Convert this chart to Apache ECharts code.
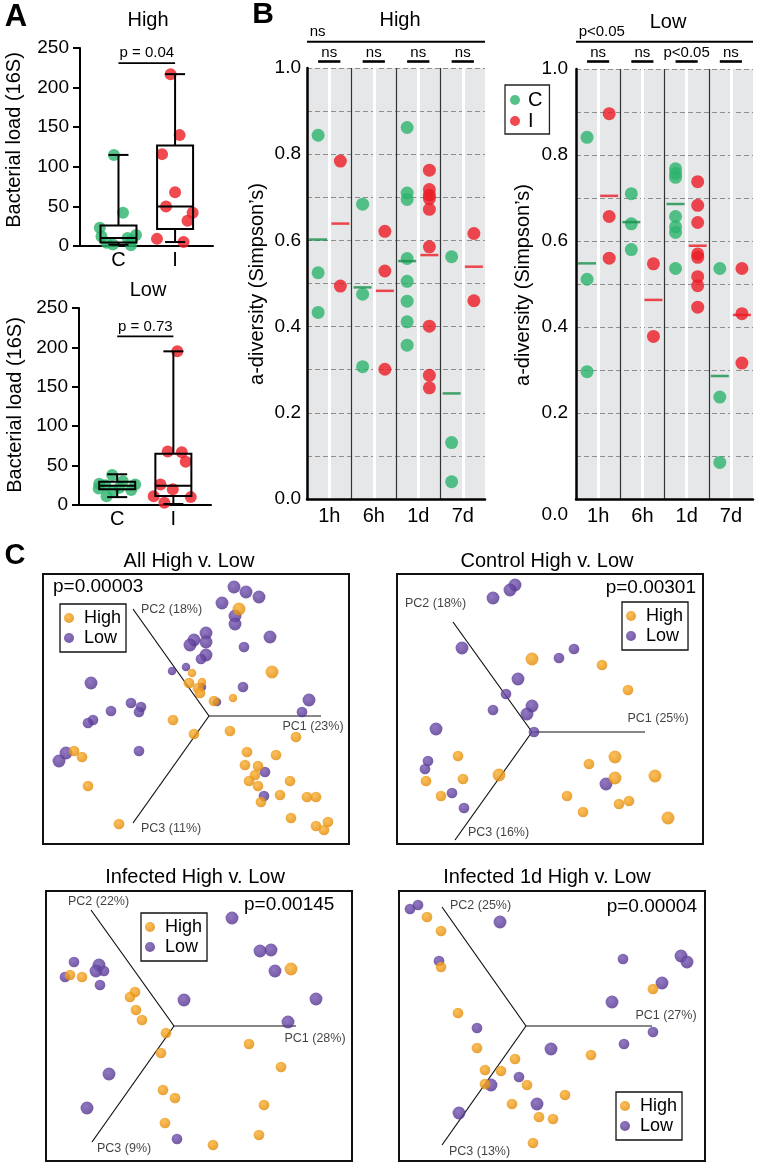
<!DOCTYPE html>
<html><head><meta charset="utf-8">
<script src="https://cdn.jsdelivr.net/npm/echarts@6.0.0/dist/echarts.min.js"></script>
<style>html,body{margin:0;padding:0;background:#fff;}#chart{width:760px;height:1164px;}</style>
</head><body><div id="chart"></div>
<script>
// ================= DATA =================
// ---- Panel A: bacterial load (16S) ----
const aCategories = ['C', 'I'];
const aYTicks = [0, 50, 100, 150, 200, 250];
const aHighC = [115, 42, 23, 14, 12, 10, 7, 4, 2, 1];
const aHighCJitter = [-0.08, 0.08, -0.33, 0.31, -0.30, 0.16, 0.23, -0.21, -0.10, 0.22];
const aHighI = [217, 140, 116, 68, 50, 42, 32, 9, 5];
const aHighIJitter = [-0.08, 0.08, -0.23, 0.00, -0.16, 0.31, 0.22, -0.32, 0.15];
const aHighBoxC = [1.6, 4.5, 10, 26, 115];
const aHighBoxI = [5, 21.5, 50, 127, 217];
const aHighP = 'p = 0.04';
const aLowC = [38, 30, 27, 26, 25, 22, 21, 19, 18, 11];
const aLowCJitter = [-0.09, 0.10, -0.32, 0.32, -0.21, 0.04, -0.33, 0.25, -0.07, -0.19];
const aLowI = [195, 68, 67, 55, 26, 20, 11, 10, 3];
const aLowIJitter = [0.07, -0.10, 0.15, 0.22, -0.23, -0.01, -0.35, 0.31, -0.16];
const aLowBoxC = [10, 20, 24.5, 29.5, 39];
const aLowBoxI = [1.3, 11.4, 24.5, 65, 195];
const aLowP = 'p = 0.73';

// ---- Panel B: alpha diversity (Simpson's) ----
const bGroups = ['1h', '6h', '1d', '7d'];
const bHighC = [[0.844, 0.525, 0.433], [0.684, 0.475, 0.307], [0.862, 0.710, 0.695, 0.558, 0.505, 0.459, 0.411, 0.357], [0.562, 0.131, 0.040]];
const bHighI = [[0.784, 0.494], [0.621, 0.529, 0.301], [0.763, 0.718, 0.705, 0.697, 0.672, 0.585, 0.401, 0.287, 0.258], [0.616, 0.460]];
const bHighCMean = [0.602, 0.491, 0.552, 0.245];
const bHighIMean = [0.639, 0.483, 0.566, 0.539];
const bHighSig = ['ns', 'ns', 'ns', 'ns'];
const bHighOverall = 'ns';
const bLowC = [[0.841, 0.511, 0.296], [0.710, 0.640, 0.580], [0.768, 0.757, 0.748, 0.657, 0.633, 0.620, 0.536], [0.536, 0.237, 0.085]];
const bLowI = [[0.896, 0.657, 0.560], [0.547, 0.378], [0.738, 0.683, 0.643, 0.570, 0.562, 0.517, 0.496, 0.446], [0.536, 0.431, 0.316]];
const bLowCMean = [0.548, 0.644, 0.686, 0.286];
const bLowIMean = [0.705, 0.463, 0.589, 0.428];
const bLowSig = ['ns', 'ns', 'p<0.05', 'ns'];
const bLowOverall = 'p<0.05';

// ---- Panel C: PCoA projections, points [x, y, depth(0 far .. 2 near)] ----
const allLow = [[25,129,2],[37,124,2],[50,119,2],[13,113,2],[26,100,2],[26,92,2],[-3,83,2],[-15,76,2],[-19,71,2],[-3,74,2],[35,69,1],[61,79,2],[-3,61,2],[-8,57,1],[-23,49,0],[-37,45,0],[-7,29,0],[34,29,1],[8,14,0],[100,16,2],[93,4,1],[-118,33,2],[-78,13,1],[-68,9,1],[-70,4,1],[-98,5,1],[-116,-4,1],[-121,-7,1],[-70,-35,1],[-143,-37,2],[-150,-45,2],[56,-56,1],[55,-80,1]];
const allHigh = [[30,107,2],[-17,43,0],[-7,34,0],[-20,33,1],[-11,28,1],[-9,23,1],[5,15,1],[24,18,0],[63,44,2],[-36,-4,1],[-15,-18,1],[21,-15,1],[87,-21,1],[38,-36,1],[67,-39,1],[36,-49,1],[49,-50,1],[46,-59,1],[40,-65,1],[49,-70,1],[81,-65,1],[71,-79,1],[52,-86,1],[98,-81,1],[107,-81,1],[82,-102,1],[107,-110,1],[119,-106,1],[115,-114,1],[-135,-35,1],[-127,-41,1],[-121,-70,1],[-90,-108,1]];
const allAxes = [[112,0],[-76,107],[-76,-107]];
const allAxisNames = ['PC1 (23%)', 'PC2 (18%)', 'PC3 (11%)'];
const allP = 'p=0.00003';

const ctrlLow = [[-17,147,2],[-22,142,2],[-39,134,2],[-70,84,2],[-14,53,2],[27,74,1],[42,83,1],[-26,38,1],[-39,22,1],[0,26,2],[-5,18,2],[2,0,1],[-96,3,2],[-104,-29,1],[-107,-37,1],[-80,-61,1],[-68,-76,1],[74,-52,2]];
const ctrlHigh = [[0,73,2],[70,67,1],[96,42,1],[-74,-24,1],[-69,-47,1],[-106,-49,1],[-91,-64,1],[-33,-43,2],[57,-32,1],[83,-25,2],[83,-46,2],[123,-44,2],[35,-64,1],[51,-80,1],[87,-72,1],[97,-69,1],[136,-86,2]];
const ctrlAxes = [[113,0],[-79,110],[-77,-108]];
const ctrlAxisNames = ['PC1 (25%)', 'PC2 (18%)', 'PC3 (16%)'];
const ctrlP = 'p=0.00301';

const infLow = [[58,108,2],[86,75,2],[97,76,2],[101,55,2],[142,27,2],[114,4,2],[10,26,2],[-100,64,1],[-75,61,2],[-78,55,2],[-70,55,1],[-109,49,1],[-74,41,1],[-65,-48,2],[-87,-82,2],[3,-113,1]];
const infHigh = [[-104,51,1],[-92,49,1],[-39,34,1],[-44,29,1],[-38,16,1],[-32,6,1],[-8,-7,1],[-13,-27,1],[117,57,2],[75,-18,1],[107,-41,1],[-11,-64,1],[1,-72,1],[90,-79,1],[-9,-97,1],[85,-109,1],[39,-119,1]];
const infAxes = [[122,0],[-83,116],[-82,-116]];
const infAxisNames = ['PC1 (28%)', 'PC2 (22%)', 'PC3 (9%)'];
const infP = 'p=0.00145';

const inf1dLow = [[-116,117,1],[-108,121,1],[-26,104,2],[-87,65,1],[97,67,1],[155,70,2],[161,64,2],[136,43,2],[86,24,2],[-49,-2,1],[127,-6,1],[98,-18,1],[25,-23,2],[-7,-51,1],[-35,-59,2],[11,-78,2],[-67,-87,2]];
const inf1dHigh = [[-99,109,1],[-85,95,1],[-85,59,1],[127,37,1],[-68,13,1],[-49,-22,1],[65,-29,1],[-11,-33,1],[-41,-44,1],[-25,-45,1],[-41,-58,1],[1,-59,1],[39,-69,1],[-14,-78,1],[13,-91,1],[27,-93,1],[7,-117,1]];
const inf1dAxes = [[126,0],[-84,119],[-84,-119]];
const inf1dAxisNames = ['PC1 (27%)', 'PC2 (25%)', 'PC3 (13%)'];
const inf1dP = 'p=0.00004';

// ================= STYLE / LAYOUT =================
const FONT = '"Liberation Sans", Arial, Helvetica, sans-serif';
const GREEN = '#2bb46c', GREEN_MEAN = '#16904a', RED = '#ec1c24';
const sphere = (c0, c1) => new echarts.graphic.RadialGradient(0.4, 0.36, 0.7, [{offset: 0, color: c0}, {offset: 1, color: c1}]);
const ORANGE = sphere('#fbb032', '#e08600');
const PURPLE = sphere('#7656b4', '#4e2f88');

const pcaPanels = [
  {title: 'All High v. Low', p: allP, high: allHigh, low: allLow, axes: allAxes, names: allAxisNames,
   grid: {left: 43, top: 574, width: 306, height: 270}, xr: [-166, 140], yr: [-128, 142],
   titlePos: [189, 561], pPos: [53, 587, 'left'], legendPos: [60, 604],
   nameLayout: [{offset: [-8, 11], align: 'center'}, {offset: [8, 1], align: 'left'}, {offset: [8, 6], align: 'left'}]},
  {title: 'Control High v. Low', p: ctrlP, high: ctrlHigh, low: ctrlLow, axes: ctrlAxes, names: ctrlAxisNames,
   grid: {left: 397, top: 574, width: 306, height: 270}, xr: [-135, 171], yr: [-112, 158],
   titlePos: [547, 561], pPos: [696, 588, 'right'], legendPos: [622, 602],
   nameLayout: [{offset: [13, -13], align: 'center'}, {offset: [-48, -18], align: 'left'}, {offset: [13, -7], align: 'left'}]},
  {title: 'Infected High v. Low', p: infP, high: infHigh, low: infLow, axes: infAxes, names: infAxisNames,
   grid: {left: 46, top: 891, width: 306, height: 270}, xr: [-128, 178], yr: [-135, 135],
   titlePos: [195, 877], pPos: [244, 905, 'left'], legendPos: [141, 913],
   nameLayout: [{offset: [19, 13], align: 'center'}, {offset: [-23, -8], align: 'left'}, {offset: [5, 7], align: 'left'}]},
  {title: 'Infected 1d High v. Low', p: inf1dP, high: inf1dHigh, low: inf1dLow, axes: inf1dAxes, names: inf1dAxisNames,
   grid: {left: 399, top: 891, width: 306, height: 270}, xr: [-127, 179], yr: [-135, 135],
   titlePos: [547, 877], pPos: [697, 907, 'right'], legendPos: [616, 1092],
   nameLayout: [{offset: [14, -10], align: 'center'}, {offset: [8, -1], align: 'left'}, {offset: [7, 7], align: 'left'}]}
];

const chart = echarts.init(document.getElementById('chart'), null, {renderer: 'canvas', width: 760, height: 1164});

const grids = [
  {left: 80, top: 48, width: 133, height: 198},
  {left: 79, top: 308, width: 132, height: 197},
  {left: 307, top: 68, width: 178, height: 431, show: true, backgroundColor: '#e6e7e8', borderWidth: 0},
  {left: 576, top: 69, width: 177, height: 430, show: true, backgroundColor: '#e6e7e8', borderWidth: 0}
];
pcaPanels.forEach(p => grids.push(Object.assign({show: true, borderColor: '#111', borderWidth: 2, backgroundColor: '#fff'}, p.grid)));

const xAxes = [], yAxes = [];
function aAxes(gi) {
  xAxes.push({gridIndex: gi, type: 'value', min: 0.32, max: 2.67,
    axisLine: {show: true, onZero: false, lineStyle: {color: '#000', width: 2}}, axisTick: {show: false}, splitLine: {show: false},
    axisLabel: {fontSize: 20, fontFamily: FONT, color: '#000', margin: 4,
      formatter: v => { const k = Math.round(v); return Math.abs(v - k) < 1e-6 && k >= 1 && k <= aCategories.length ? aCategories[k - 1] : ''; }}});
  yAxes.push({gridIndex: gi, type: 'value', min: aYTicks[0], max: aYTicks[aYTicks.length - 1], interval: aYTicks[1] - aYTicks[0],
    axisLine: {show: true, lineStyle: {color: '#000', width: 2}}, axisTick: {show: true, length: 7, lineStyle: {color: '#000', width: 2}},
    splitLine: {show: false}, axisLabel: {fontSize: 19, fontFamily: FONT, color: '#000', margin: 11}});
}
aAxes(0); aAxes(1);
function bAxes(gi, lowStyle) {
  xAxes.push({gridIndex: gi, type: 'value', min: 0, max: 8, interval: 1, position: 'bottom',
    axisLine: {show: true, onZero: false, lineStyle: {color: '#000', width: 2.5}}, axisTick: {show: false},
    splitLine: {show: true, lineStyle: {color: ['transparent', '#ffffff'], width: 3}},
    axisLabel: {fontSize: 20, fontFamily: FONT, color: '#000', margin: 7,
      formatter: v => { const k = Math.round(v); return k % 2 === 1 ? bGroups[(k - 1) / 2] : ''; }}});
  xAxes.push({gridIndex: gi, type: 'value', min: 0, max: 8, interval: 2, position: 'top',
    axisLine: {show: false}, axisTick: {show: false}, axisLabel: {show: false},
    splitLine: {show: true, lineStyle: {color: ['transparent', '#333', '#333', '#333', 'transparent'], width: 1.2}}});
  yAxes.push({gridIndex: gi, type: 'value', min: 0, max: 1, interval: 0.1,
    axisLine: {show: true, lineStyle: {color: '#000', width: 2.5}}, axisTick: {show: false},
    splitLine: {show: true, lineStyle: {color: '#8e8e8e', type: [5, 3], width: 1}},
    axisLabel: {fontSize: 19, fontFamily: FONT, color: '#000', margin: lowStyle ? 8 : 6,
      formatter: v => { const k = Math.round(v * 10); if (k % 2) return ''; const s = (k / 10).toFixed(1); return (lowStyle && k === 0) ? '{z|' + s + '}' : s; },
      rich: {z: {fontSize: 19, fontFamily: FONT, color: '#000', padding: [32, 0, 0, 0]}}}});
}
bAxes(2, false); bAxes(3, true);
pcaPanels.forEach((p, i) => {
  xAxes.push({gridIndex: 4 + i, type: 'value', min: p.xr[0], max: p.xr[1], show: false});
  yAxes.push({gridIndex: 4 + i, type: 'value', min: p.yr[0], max: p.yr[1], show: false});
});

const series = [];
const jit = (vals, j, c) => vals.map((v, i) => [c + j[i], v]);
function boxRender(params, api) {
  const x = api.value(0);
  const lo = api.coord([x, api.value(1)]), q1 = api.coord([x, api.value(2)]), md = api.coord([x, api.value(3)]);
  const q3 = api.coord([x, api.value(4)]), hi = api.coord([x, api.value(5)]);
  const hw = 18, cw = 10, st = {stroke: '#000', lineWidth: 2, fill: 'transparent'};
  const ln = (x1, y1, x2, y2) => ({type: 'line', shape: {x1, y1, x2, y2}, style: st});
  return {type: 'group', children: [
    ln(lo[0], lo[1], lo[0], q1[1]), ln(hi[0], hi[1], hi[0], q3[1]),
    ln(lo[0] - cw, lo[1], lo[0] + cw, lo[1]), ln(hi[0] - cw, hi[1], hi[0] + cw, hi[1]),
    {type: 'rect', shape: {x: q3[0] - hw, y: q3[1], width: 2 * hw, height: q1[1] - q3[1]}, style: st},
    ln(md[0] - hw, md[1], md[0] + hw, md[1])
  ]};
}
const seriesIdx = {};
function aSeries(gi, c, cj, iv, ij, boxC, boxI, key) {
  seriesIdx[key] = series.length;
  series.push({type: 'scatter', name: 'C', xAxisIndex: gi, yAxisIndex: gi, data: jit(c, cj, 1), symbolSize: 12, itemStyle: {color: GREEN}, z: 2});
  series.push({type: 'scatter', name: 'I', xAxisIndex: gi, yAxisIndex: gi, data: jit(iv, ij, 2), symbolSize: 12, itemStyle: {color: RED}, z: 2});
  series.push({type: 'custom', xAxisIndex: gi, yAxisIndex: gi, renderItem: boxRender, z: 5,
    dimensions: ['x', 'min', 'q1', 'med', 'q3', 'max'], encode: {x: 0, y: [1, 2, 3, 4, 5]},
    data: [[1].concat(boxC), [2].concat(boxI)]});
}
aSeries(0, aHighC, aHighCJitter, aHighI, aHighIJitter, aHighBoxC, aHighBoxI, 'aHigh');
aSeries(1, aLowC, aLowCJitter, aLowI, aLowIJitter, aLowBoxC, aLowBoxI, 'aLow');

function bSeries(xi, yi, C, I, cm, im, key) {
  seriesIdx[key] = series.length;
  const pts = (arr, off) => arr.flatMap((g, k) => g.map(v => [2 * k + off, v]));
  series.push({type: 'scatter', name: 'C', xAxisIndex: xi, yAxisIndex: yi, data: pts(C, 0.5), symbolSize: 13, itemStyle: {color: GREEN}, z: 3});
  series.push({type: 'scatter', name: 'I', xAxisIndex: xi, yAxisIndex: yi, data: pts(I, 1.5), symbolSize: 13, itemStyle: {color: RED}, z: 3});
  series.push({type: 'scatter', xAxisIndex: xi, yAxisIndex: yi, data: cm.map((v, k) => [2 * k + 0.5, v]), symbol: 'rect', symbolSize: [18, 2.5], itemStyle: {color: GREEN_MEAN}, z: 4});
  series.push({type: 'scatter', xAxisIndex: xi, yAxisIndex: yi, data: im.map((v, k) => [2 * k + 1.5, v]), symbol: 'rect', symbolSize: [18, 2.5], itemStyle: {color: RED}, z: 4});
}
bSeries(2, 2, bHighC, bHighI, bHighCMean, bHighIMean, 'bHigh');
bSeries(4, 3, bLowC, bLowI, bLowCMean, bLowIMean, 'bLow');

pcaPanels.forEach((p, i) => {
  const xi = 6 + i, yi = 4 + i;
  const axStyle = {type: 'line', xAxisIndex: xi, yAxisIndex: yi, showSymbol: false, symbol: 'none', silent: true,
    lineStyle: {color: '#111', width: 1.2}, z: 1};
  series.push(Object.assign({}, axStyle, {data: [p.axes[1], [0, 0], p.axes[0]]}));
  series.push(Object.assign({}, axStyle, {data: [[0, 0], p.axes[2]]}));
  series.push({type: 'scatter', xAxisIndex: xi, yAxisIndex: yi, symbolSize: 1, silent: true, itemStyle: {color: 'transparent'}, z: 2,
    data: p.axes.map((a, k) => ({value: a, label: {show: true, position: 'inside', formatter: p.names[k], align: p.nameLayout[k].align,
      verticalAlign: 'middle', offset: p.nameLayout[k].offset, fontSize: 12.5, fontFamily: FONT, color: '#111'}}))});
  const sz = v => 8.5 + 2.2 * v[2];
  series.push({type: 'scatter', name: 'Low', xAxisIndex: xi, yAxisIndex: yi, data: p.low, symbolSize: sz, itemStyle: {color: PURPLE}, z: 3});
  series.push({type: 'scatter', name: 'High', xAxisIndex: xi, yAxisIndex: yi, data: p.high, symbolSize: sz, itemStyle: {color: ORANGE}, z: 4});
});

const legends = [{data: ['C', 'I'], left: 505, top: 85, orient: 'vertical', icon: 'circle', itemWidth: 10, itemHeight: 10, itemGap: 1,
  padding: [5, 7, 3, 5], borderColor: '#222', borderWidth: 1.3, selectedMode: false,
  textStyle: {fontSize: 20, lineHeight: 20, fontFamily: FONT, color: '#000', padding: [0, 0, 0, 3]}}];
pcaPanels.forEach(p => legends.push({data: ['High', 'Low'], left: p.legendPos[0], top: p.legendPos[1], orient: 'vertical', icon: 'circle',
  itemWidth: 10, itemHeight: 10, itemGap: 2, padding: [5, 5, 5, 4], borderColor: '#111', borderWidth: 1.3, selectedMode: false,
  textStyle: {fontSize: 18, lineHeight: 18, fontFamily: FONT, color: '#000', padding: [0, 0, 0, 5]}}));

chart.setOption({animation: false, backgroundColor: '#fff', grid: grids, xAxis: xAxes, yAxis: yAxes, series: series, legend: legends});

// ================= ANNOTATIONS =================
const T = (text, x, y, size, align, extra) => Object.assign({type: 'text', x: x, y: y, silent: true,
  style: {text: text, font: (extra && extra.bold ? 'bold ' : '') + size + 'px ' + FONT, textAlign: align || 'center', textVerticalAlign: 'middle', fill: '#000'}},
  extra && extra.rotation ? {rotation: extra.rotation} : {});
const Lseg = (x1, y1, x2, y2, w) => ({type: 'line', silent: true, shape: {x1, y1, x2, y2}, style: {stroke: '#000', lineWidth: w || 2}});
const px = (si, x, y) => chart.convertToPixel({seriesIndex: si}, [x, y]);
const G = [];
// panel letters
G.push(T('A', 16, 17, 31, 'center', {bold: true}));
G.push(T('B', 263, 15, 30, 'center', {bold: true}));
G.push(T('C', 15, 556, 29, 'center', {bold: true}));
// Panel A
G.push(T('High', 148, 20, 20));
G.push(T('Low', 148, 290, 20));
G.push(T('Bacterial load (16S)', 14, 140, 20, 'center', {rotation: Math.PI / 2}));
G.push(T('Bacterial load (16S)', 15, 405, 20, 'center', {rotation: Math.PI / 2}));
[['aHigh', 231, aHighP], ['aLow', 214, aLowP]].forEach(([k, v, txt]) => {
  const a = px(seriesIdx[k], 1, v), b = px(seriesIdx[k], 2, v);
  G.push(Lseg(a[0], a[1], b[0], b[1], 1.8));
  G.push(T(txt, (a[0] + b[0]) / 2, a[1] - 10, 15));
});
// Panel B
G.push(T('High', 400, 20, 20));
G.push(T('Low', 668, 22, 20));
G.push(T('a-diversity (Simpson\u2019s)', 257, 284, 20, 'center', {rotation: Math.PI / 2}));
G.push(T('a-diversity (Simpson\u2019s)', 523, 285, 20, 'center', {rotation: Math.PI / 2}));
[['bHigh', bHighOverall, bHighSig], ['bLow', bLowOverall, bLowSig]].forEach(([k, overall, subs]) => {
  const si = seriesIdx[k];
  const l = px(si, 0, 1), r = px(si, 8, 1);
  G.push(T(overall, px(si, 0.12, 1)[0], 32, 15, 'left'));
  G.push(Lseg(l[0], 41.7, r[0], 41.7, 2));
  subs.forEach((s, g) => {
    const c = px(si, 2 * g + 1, 1), a = px(si, 2 * g + 0.5, 1), b = px(si, 2 * g + 1.5, 1);
    G.push(T(s, c[0], 52.5, 15));
    G.push(Lseg(a[0], 61.5, b[0], 61.5, 2.6));
  });
});
// Panel C
pcaPanels.forEach(p => {
  G.push(T(p.title, p.titlePos[0], p.titlePos[1], 20));
  G.push(T(p.p, p.pPos[0], p.pPos[1], 19, p.pPos[2]));
});
chart.setOption({graphic: G});
</script>
</body></html>
